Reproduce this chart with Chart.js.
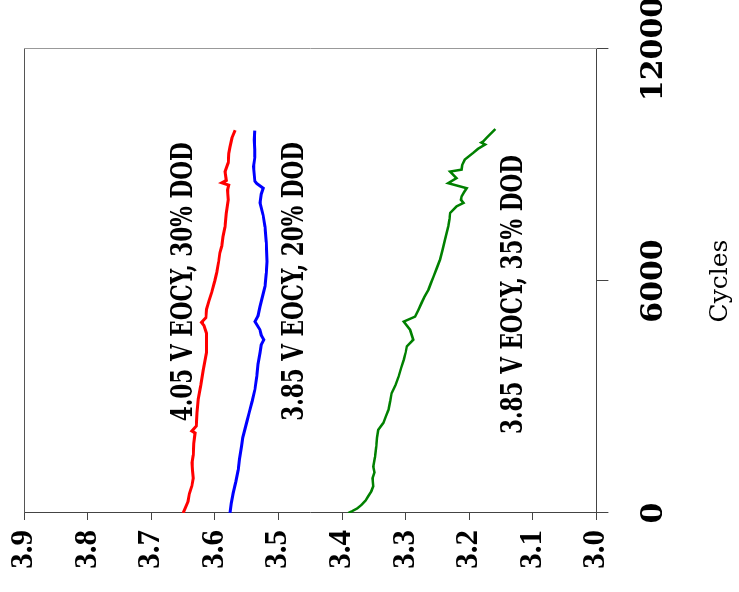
<!DOCTYPE html>
<html>
<head>
<meta charset="utf-8">
<script src="https://cdn.jsdelivr.net/npm/chart.js@4"></script>
<style>
  html, body { margin: 0; padding: 0; background: #fff; overflow: hidden; }
  /* chart is drawn upright, then turned a quarter to the left like the reference */
  #wrap {
    position: absolute; left: 0; top: 0;
    width: 592px; height: 739px;
    transform-origin: 0 0;
    transform: translateY(592px) rotate(-90deg);
  }
</style>
</head>
<body>
<div id="wrap"><canvas id="chart" width="592" height="739"></canvas></div>
<script>
// cycles / voltage
const redCycles = [0, 150, 300, 500, 700, 900, 1100, 1300, 1500, 1800, 2070, 2120, 2250, 2600, 2950, 3300, 3700, 4150, 4650, 4850, 4930, 5050, 5270, 5500, 5700, 6000, 6220, 6500, 6730, 6900, 7150, 7400, 7750, 8100, 8350, 8480, 8540, 8600, 8830, 9060, 9300, 9470, 9700, 9900];
const redVolts = [3.650, 3.646, 3.642, 3.640, 3.636, 3.634, 3.635, 3.636, 3.634, 3.633, 3.631, 3.636, 3.629, 3.628, 3.626, 3.622, 3.618, 3.613, 3.613, 3.617, 3.621, 3.614, 3.613, 3.609, 3.605, 3.600, 3.597, 3.594, 3.592, 3.589, 3.587, 3.584, 3.582, 3.579, 3.580, 3.578, 3.589, 3.582, 3.584, 3.579, 3.578, 3.576, 3.573, 3.568];

const blueCycles = [0, 250, 525, 800, 1120, 1400, 1720, 1950, 2150, 2400, 2590, 2900, 3190, 3530, 3850, 4140, 4350, 4480, 4600, 4740, 4950, 5100, 5340, 5600, 5860, 6200, 6500, 7000, 7400, 7700, 8020, 8250, 8400, 8520, 8580, 8960, 9200, 9400, 9650, 9890];
const blueVolts = [3.576, 3.574, 3.571, 3.567, 3.563, 3.561, 3.558, 3.556, 3.553, 3.549, 3.546, 3.541, 3.537, 3.534, 3.532, 3.529, 3.527, 3.523, 3.527, 3.529, 3.537, 3.532, 3.529, 3.525, 3.521, 3.519, 3.518, 3.519, 3.521, 3.524, 3.529, 3.527, 3.524, 3.534, 3.537, 3.539, 3.537, 3.537, 3.538, 3.537];

const greenCycles = [0, 40, 120, 215, 320, 430, 560, 690, 900, 1050, 1200, 1450, 1720, 1950, 2150, 2330, 2500, 2670, 2900, 3100, 3300, 3530, 3750, 3960, 4150, 4310, 4480, 4740, 4950, 5080, 5250, 5430, 5600, 5780, 5950, 6120, 6330, 6550, 6800, 7070, 7410, 7600, 7760, 7930, 8020, 8100, 8190, 8300, 8400, 8530, 8660, 8830, 8880, 9000, 9140, 9310, 9420, 9530, 9580, 9610, 9750, 9930];
const greenVolts = [3.390, 3.385, 3.376, 3.369, 3.363, 3.359, 3.354, 3.351, 3.352, 3.349, 3.351, 3.348, 3.346, 3.345, 3.343, 3.335, 3.331, 3.327, 3.324, 3.322, 3.316, 3.311, 3.307, 3.303, 3.300, 3.298, 3.288, 3.293, 3.303, 3.285, 3.280, 3.275, 3.270, 3.264, 3.260, 3.256, 3.251, 3.246, 3.242, 3.238, 3.233, 3.231, 3.230, 3.220, 3.209, 3.213, 3.212, 3.208, 3.204, 3.233, 3.220, 3.230, 3.212, 3.211, 3.207, 3.194, 3.186, 3.175, 3.181, 3.178, 3.170, 3.159];

const cycleTicks = [0, 6000, 12000];
const voltTicks = [3.0, 3.1, 3.2, 3.3, 3.4, 3.5, 3.6, 3.7, 3.8, 3.9];

const labelText = ['4.05 V EOCY, 30% DOD', '3.85 V EOCY, 20% DOD', '3.85 V EOCY, 35% DOD'];
const labelCycles = [5980, 5990, 5650];
const labelVolts = [3.636, 3.461, 3.117];

function toPoints(xs, ys) {
    return xs.map((x, i) => ({ x: x, y: ys[i] }));
}

// text next to each curve, squeezed sideways like the original lettering
const curveLabels = {
    id: 'curveLabels',
    afterDatasetsDraw(chart) {
        const ctx = chart.ctx;
        const xs = chart.scales.x;
        const ys = chart.scales.y;
        ctx.save();
        ctx.fillStyle = '#000';
        ctx.font = 'bold 30px "DejaVu Serif"';
        ctx.textAlign = 'center';
        ctx.textBaseline = 'alphabetic';
        labelText.forEach((t, i) => {
            ctx.save();
            ctx.translate(xs.getPixelForValue(labelCycles[i]), ys.getPixelForValue(labelVolts[i]));
            ctx.scale(0.72, 1);
            ctx.fillText(t, 0, 0);
            ctx.restore();
        });
        ctx.restore();
    }
};

const axisColor = '#444';

new Chart(document.getElementById('chart'), {
    type: 'line',
    data: {
        datasets: [
            { data: toPoints(redCycles, redVolts), borderColor: '#ff0000', borderWidth: 3 },
            { data: toPoints(blueCycles, blueVolts), borderColor: '#0000ff', borderWidth: 3 },
            { data: toPoints(greenCycles, greenVolts), borderColor: '#008000', borderWidth: 2.5 }
        ]
    },
    options: {
        responsive: false,
        devicePixelRatio: 1,
        animation: false,
        events: [],
        layout: { padding: { left: 0, top: 24, right: 49, bottom: 0 } },
        elements: {
            point: { radius: 0 },
            line: { tension: 0, fill: false }
        },
        plugins: {
            legend: { display: false },
            tooltip: { enabled: false }
        },
        scales: {
            x: {
                type: 'linear',
                position: 'bottom',
                min: 0,
                max: 12000,
                afterBuildTicks: s => { s.ticks = cycleTicks.map(v => ({ value: v })); },
                afterFit: s => { s.height = 142.6; s.paddingLeft = 0; s.paddingRight = 0; },
                grid: { drawOnChartArea: false, drawTicks: true, tickLength: 12, color: axisColor },
                border: { display: true, color: axisColor, width: 1 },
                ticks: {
                    color: '#000',
                    padding: 28,
                    maxRotation: 0,
                    autoSkip: false,
                    callback: v => String(v),
                    font: { family: 'DejaVu Serif', weight: 'bold', size: 30 }
                },
                title: {
                    display: true,
                    text: 'Cycles',
                    color: '#000',
                    padding: { top: 0, bottom: 4 },
                    font: { family: 'DejaVu Serif', size: 25 }
                }
            },
            y: {
                type: 'linear',
                position: 'left',
                min: 3.0,
                max: 3.9,
                afterBuildTicks: s => { s.ticks = voltTicks.map(v => ({ value: v })); },
                afterFit: s => { s.width = 79; s.paddingTop = 0; s.paddingBottom = 0; },
                grid: { drawOnChartArea: false, drawTicks: true, tickLength: 7, color: axisColor },
                border: { display: true, color: axisColor, width: 1 },
                ticks: {
                    color: '#000',
                    padding: 10,
                    autoSkip: false,
                    callback: v => Number(v).toFixed(1),
                    font: { family: 'Liberation Serif', weight: 'bold', size: 31 }
                }
            },
            // frame lines on the far sides
            x2: {
                axis: 'x',
                type: 'linear',
                position: 'top',
                min: 0,
                max: 12000,
                afterFit: s => { s.height = 0; s.paddingLeft = 0; s.paddingRight = 0; },
                grid: { display: false, drawTicks: false },
                border: { display: true, color: '#555', width: 1 },
                ticks: { display: false }
            },
            y2: {
                axis: 'y',
                type: 'linear',
                position: 'right',
                min: 3.0,
                max: 3.9,
                afterFit: s => { s.width = 0; s.paddingTop = 0; s.paddingBottom = 0; },
                grid: { display: false, drawTicks: false },
                border: { display: true, color: '#999', width: 1 },
                ticks: { display: false }
            }
        }
    },
    plugins: [curveLabels]
});
</script>
</body>
</html>
